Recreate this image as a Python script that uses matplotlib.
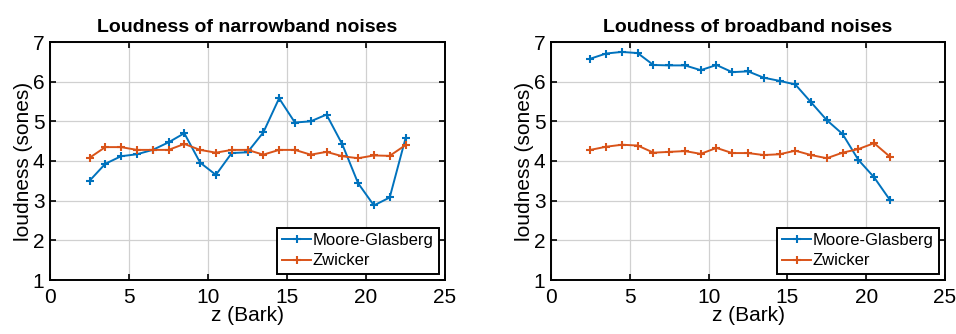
import matplotlib
matplotlib.use('Agg')
import matplotlib.pyplot as plt
import numpy as np

plt.rcParams['font.family'] = ['Liberation Sans', 'DejaVu Sans']

# narrowband noises
z_narrow = [2.5, 3.5, 4.5, 5.5, 6.5, 7.5, 8.5, 9.5, 10.5, 11.5, 12.5,
            13.5, 14.5, 15.5, 16.5, 17.5, 18.5, 19.5, 20.5, 21.5, 22.5]
mg_narrow = [3.5, 3.93, 4.12, 4.17, 4.28, 4.47, 4.7, 3.96, 3.65, 4.2, 4.22,
             4.72, 5.58, 4.97, 5.0, 5.17, 4.42, 3.44, 2.88, 3.08, 4.57]
zw_narrow = [4.08, 4.35, 4.35, 4.28, 4.28, 4.28, 4.43, 4.28, 4.21, 4.28, 4.28,
             4.16, 4.28, 4.28, 4.16, 4.23, 4.12, 4.07, 4.14, 4.13, 4.4]

# broadband noises
z_broad = [2.5, 3.5, 4.5, 5.5, 6.5, 7.5, 8.5, 9.5, 10.5, 11.5,
           12.5, 13.5, 14.5, 15.5, 16.5, 17.5, 18.5, 19.5, 20.5, 21.5]
mg_broad = [6.58, 6.71, 6.75, 6.72, 6.42, 6.41, 6.41, 6.29, 6.42, 6.24,
            6.26, 6.10, 6.02, 5.93, 5.48, 5.03, 4.68, 4.03, 3.59, 3.02]
zw_broad = [4.28, 4.36, 4.41, 4.39, 4.21, 4.23, 4.25, 4.18, 4.33, 4.20,
            4.20, 4.15, 4.17, 4.26, 4.15, 4.07, 4.21, 4.30, 4.45, 4.11]

blue = '#0072BD'
red = '#D95319'

fig = plt.figure(figsize=(9.56, 3.34), dpi=100)
ax1 = fig.add_axes([50/956, 1 - 280/334, 395/956, 238/334])
ax2 = fig.add_axes([551/956, 1 - 280/334, 394/956, 238/334])

panels = [
    (ax1, z_narrow, mg_narrow, zw_narrow, 'Loudness of narrowband noises'),
    (ax2, z_broad, mg_broad, zw_broad, 'Loudness of broadband noises'),
]

for ax, z, mg, zw, title in panels:
    ax.plot(z, mg, color=blue, marker='+', markersize=6, mew=1.5, lw=1.4, label='Moore-Glasberg')
    ax.plot(z, zw, color=red, marker='+', markersize=6, mew=1.5, lw=1.4, label='Zwicker')
    ax.set_xlim(0, 25)
    ax.set_ylim(1, 7)
    ax.set_xticks([0, 5, 10, 15, 20, 25])
    ax.set_yticks([1, 2, 3, 4, 5, 6, 7])
    ax.grid(True, color='#d0d0d0', lw=0.9)
    ax.tick_params(labelsize=15, direction='in', length=4, width=1.2,
                   top=True, right=True)
    ax.tick_params(axis='x', pad=6)
    ax.tick_params(axis='y', pad=4)
    for s in ax.spines.values():
        s.set_linewidth(1.4)
    ax.set_title(title, fontsize=14, fontweight='bold', pad=7)
    ax.set_xlabel('z (Bark)', fontsize=15, labelpad=-1)
    ax.set_ylabel('loudness (sones)', fontsize=15, labelpad=0)
    leg = ax.legend(loc='lower right', fontsize=12, fancybox=False, edgecolor='black',
                    framealpha=1, handlelength=1.7, handletextpad=0.1, borderpad=0.35,
                    labelspacing=0.3, borderaxespad=0.35)
    leg.get_frame().set_linewidth(1.4)

fig.savefig('out.png', dpi=100)
